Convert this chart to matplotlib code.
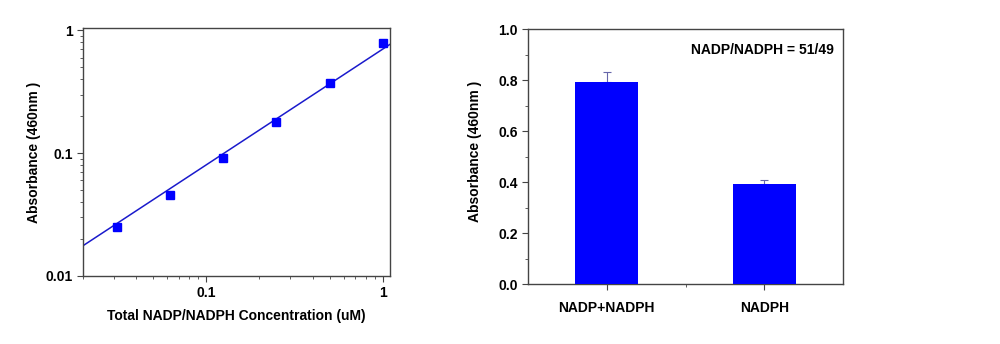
import matplotlib.pyplot as plt
import numpy as np

plt.rcParams['font.family'] = ['Liberation Sans', 'DejaVu Sans']
plt.rcParams['font.weight'] = 'bold'

# left panel: standard curve
conc = [0.03125, 0.0625, 0.125, 0.25, 0.5, 1.0]
absorb = [0.025, 0.046, 0.092, 0.181, 0.373, 0.796]
fit_slope = 0.943
fit_intercept = -0.152  # log10 space

# right panel: sample bars
groups = ['NADP+NADPH', 'NADPH']
bar_vals = [0.793, 0.392]
bar_err = [0.038, 0.017]
ratio_text = 'NADP/NADPH = 51/49'

blue = '#0000ff'
spine_col = '#444444'
fs = 10

fig = plt.figure(figsize=(10, 3.44), dpi=100)

ax1 = fig.add_axes([0.083, 0.198, 0.307, 0.721])
ax1.set_xscale('log')
ax1.set_yscale('log')
xl = (0.02, 1.1)
xf = np.array(xl)
ax1.plot(xf, 10 ** (fit_intercept + fit_slope * np.log10(xf)), color='#1a1acc', lw=1.1)
ax1.plot(conc, absorb, 's', color=blue, ms=6)
ax1.set_xlim(xl)
ax1.set_ylim(0.01, 1.05)
ax1.set_xticks([0.1, 1])
ax1.set_xticklabels(['0.1', '1'])
ax1.set_yticks([0.01, 0.1, 1])
ax1.set_yticklabels(['0.01', '0.1', '1'])
ax1.set_xlabel('Total NADP/NADPH Concentration (uM)', fontsize=fs, fontweight='bold', labelpad=6)
ax1.set_ylabel('Absorbance (460nm )', fontsize=fs, fontweight='bold', labelpad=3)

ax2 = fig.add_axes([0.528, 0.1735, 0.315, 0.7415])
xpos = np.arange(1, len(groups) + 1)
ax2.bar(xpos, bar_vals, width=0.4, color=blue, zorder=3)
ax2.errorbar(xpos, bar_vals, yerr=[[0] * len(bar_err), bar_err], fmt='none',
             ecolor='#6666aa', elinewidth=0.8, capsize=3, capthick=0.8, zorder=2)
ax2.set_xlim(0.5, 2.5)
ax2.set_ylim(0, 1.0)
ax2.set_xticks(xpos)
ax2.set_xticklabels(groups)
ax2.set_xticks([1.5], minor=True)
ax2.set_yticks(np.arange(0, 1.01, 0.2))
ax2.set_yticks(np.arange(0.1, 1.0, 0.2), minor=True)
ax2.yaxis.set_major_formatter(plt.FormatStrFormatter('%.1f'))
ax2.set_ylabel('Absorbance (460nm )', fontsize=fs, fontweight='bold')
ax2.yaxis.set_label_coords(-0.147, 0.52)
ax2.text(0.97, 0.92, ratio_text, transform=ax2.transAxes, ha='right', va='center',
         fontsize=fs, fontweight='bold')
ax2.tick_params(axis='x', which='major', pad=8)

for ax in (ax1, ax2):
    for s in ax.spines.values():
        s.set_color(spine_col)
        s.set_linewidth(1.0)
    ax.tick_params(which='both', direction='out', colors=spine_col, labelcolor='black',
                   labelsize=fs, top=False, right=False)
    ax.tick_params(which='major', length=4)
    ax.tick_params(which='minor', length=2)
    for lab in ax.get_xticklabels() + ax.get_yticklabels():
        lab.set_fontweight('bold')

fig.savefig('out.png', dpi=100)
